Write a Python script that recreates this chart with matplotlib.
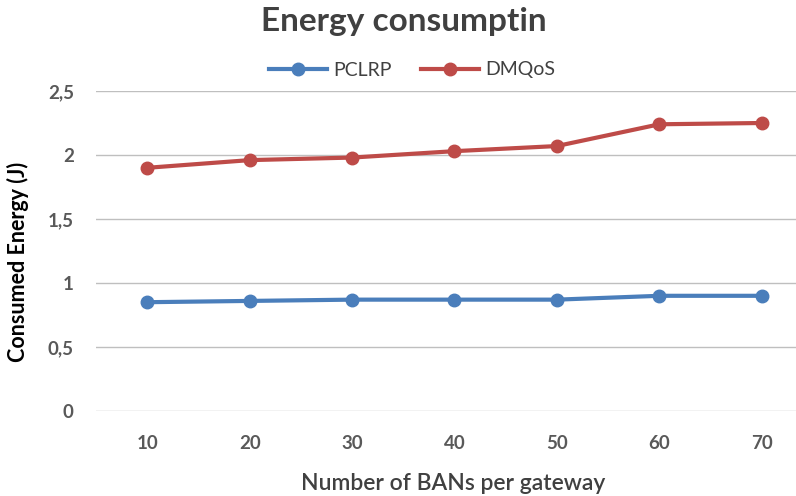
import matplotlib
matplotlib.use("Agg")
import matplotlib.pyplot as plt

categories = ["10", "20", "30", "40", "50", "60", "70"]
pclrp = [0.85, 0.86, 0.87, 0.87, 0.87, 0.90, 0.90]
dmqos = [1.90, 1.96, 1.98, 2.03, 2.07, 2.24, 2.25]
yticks = [0, 0.5, 1, 1.5, 2, 2.5]
ytick_labels = ["0", "0,5", "1", "1,5", "2", "2,5"]

plt.rcParams['font.family'] = ['Lato', 'DejaVu Sans']

fig = plt.figure(figsize=(7.96, 4.96), dpi=100)
x0 = 96 / 796
w = 717 / 796
ax = fig.add_axes([x0, 1 - 411 / 496, w, 320 / 496])

xs = list(range(len(categories)))
ax.plot(xs, pclrp, color="#4a7ebb", lw=3, marker="o", ms=9, label="PCLRP")
ax.plot(xs, dmqos, color="#be4b48", lw=3, marker="o", ms=9, label="DMQoS")

ax.set_xlim(-0.5, len(categories) - 0.5)
ax.set_ylim(0, 2.5)
ax.set_yticks(yticks)
ax.set_yticklabels(ytick_labels)
ax.set_xticks(xs)
ax.set_xticklabels(categories)
ax.grid(axis="y", color="#bfbfbf", lw=1)
ax.set_axisbelow(True)
for s in ax.spines.values():
    s.set_visible(False)
ax.tick_params(length=0, labelsize=13.5, colors="#595959")
ax.tick_params(axis="x", pad=17)
ax.tick_params(axis="y", pad=16)
for lab in ax.get_yticklabels():
    lab.set_fontweight("bold")
for lab in ax.get_xticklabels():
    lab.set_fontweight("bold")

fig.text(18 / 796, 1 - 262 / 496, "Consumed Energy (J)", rotation=90, ha="center", va="center",
         fontsize=15.5, fontweight="bold", color="black")
fig.text(453 / 796, 1 - 483 / 496, "Number of BANs per gateway", ha="center", va="center",
         fontsize=16.5, fontweight="semibold", color="#404040")
fig.text(404 / 796, 1 - 22 / 496, "Energy consumptin", ha="center", va="center",
         fontsize=24, fontweight="bold", color="#404040")

fig.legend(loc="center", bbox_to_anchor=(412 / 796, 1 - 70 / 496), ncol=2, frameon=False,
           fontsize=14, handlelength=3, columnspacing=1.5, handletextpad=0.3,
           labelcolor="#404040")

fig.savefig("out.png", dpi=100)
